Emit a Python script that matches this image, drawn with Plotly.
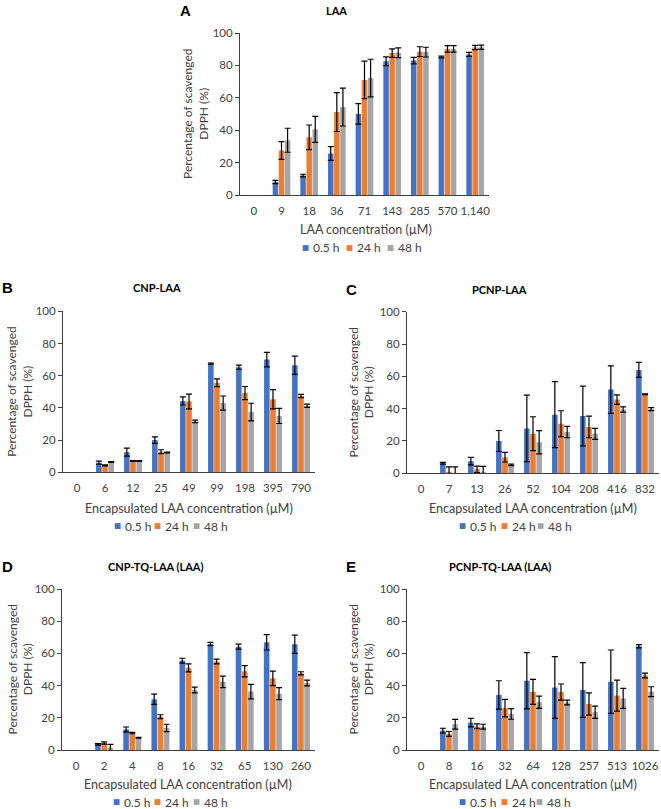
import plotly.graph_objects as go

# ---------------- data ----------------
series_names = ["0.5 h", "24 h", "48 h"]
series_colors = ["#4472C4", "#ED7D31", "#A5A5A5"]

A_cats = ["0", "9", "18", "36", "71", "143", "285", "570", "1,140"]
A_05 = [None, 8, 12, 25.6, 50.1, 82.6, 83, 85.2, 86.8]
A_05_err = [None, 1, 0.8, 4.2, 6.3, 2.7, 2, 0.5, 1.2]
A_24 = [None, 27.5, 35.6, 51.2, 71, 87.6, 88.5, 90.2, 91]
A_24_err = [None, 5.5, 7.6, 12, 11.6, 2.6, 3, 2, 1.3]
A_48 = [None, 33.8, 40.5, 54.3, 72.2, 87.8, 88.2, 90.2, 91.2]
A_48_err = [None, 7.4, 8, 11.7, 11.6, 3, 3, 2, 1.3]

B_cats = ["0", "6", "12", "25", "49", "99", "198", "395", "790"]
B_05 = [None, 6, 12.5, 20, 44.3, 67.5, 65.3, 70, 66.5]
B_05_err = [None, 1, 2.5, 2, 2.5, 0.4, 1.3, 4.5, 5.7]
B_24 = [None, 4.3, 7, 12.8, 44, 55.6, 49.2, 45.4, 47.4]
B_24_err = [None, 0.3, 0.3, 1.2, 4.6, 2.4, 4.1, 6, 1]
B_48 = [None, 6.4, 7, 12.3, 31.6, 43, 37.4, 35, 41.3]
B_48_err = [None, 0.3, 0.3, 0.2, 0.8, 4.4, 5.5, 4.7, 1]

C_cats = ["0", "7", "13", "26", "52", "104", "208", "416", "832"]
C_05 = [None, 6.2, 7.5, 20, 27.8, 36.3, 35.5, 51.8, 64]
C_05_err = [None, 0.5, 2.3, 6.5, 20.6, 20.4, 18.5, 14.7, 4.6]
C_24 = [None, 0.5, 2.5, 10, 24.5, 30.7, 28.7, 45.6, 48.9]
C_24_err = [None, 3.5, 2, 3, 10.5, 8, 6.7, 2.9, 0.3]
C_48 = [None, 0.3, 0.4, 5.2, 19.2, 25.5, 24.4, 39.5, 39.7]
C_48_err = [None, 3.7, 3.9, 0.5, 7.2, 3.5, 3.4, 1.6, 0.9]

D_cats = ["0", "2", "4", "8", "16", "32", "65", "130", "260"]
D_05 = [None, 3.5, 12.8, 31.5, 55.5, 65.8, 64.2, 66.9, 65.7]
D_05_err = [None, 0.5, 1.5, 3.2, 1.5, 1, 1.5, 4.8, 5.7]
D_24 = [None, 4.3, 10.5, 20.7, 51, 55, 48.9, 44.5, 47.6]
D_24_err = [None, 0.7, 0.4, 1.2, 2.5, 1.5, 3.5, 4.5, 1]
D_48 = [None, 1.5, 7.6, 13.7, 37.3, 42.3, 36.3, 35, 41.6]
D_48_err = [None, 2, 0.3, 2.3, 1.8, 3.6, 4.5, 3.7, 1.8]

E_cats = ["0", "8", "16", "32", "64", "128", "257", "513", "1026"]
E_05 = [None, 12, 17, 34.2, 43, 38.8, 37.3, 42.4, 64.4]
E_05_err = [None, 1.5, 2.6, 8.8, 17.5, 19.2, 17, 19.7, 1]
E_24 = [None, 10, 14.7, 26, 36.1, 36, 28.6, 33.8, 46.3]
E_24_err = [None, 1.5, 1.5, 5.4, 7.8, 5, 6.9, 9.6, 1.5]
E_48 = [None, 16, 14.5, 22.4, 29.7, 29.5, 23.5, 32.1, 36.2]
E_48_err = [None, 3, 1.5, 3.3, 3.8, 1.5, 3.8, 6.2, 3.1]

y_ticks = [0, 20, 40, 60, 80, 100]

# ---------------- layout helpers ----------------
W, H = 661, 809
FONT = "Lato, 'Open Sans', sans-serif"
TXT = "#404040"


def px_x(p):
    return p / W


def px_y(p):
    return 1 - p / H


panels = [
    dict(letter="A", title="LAA", cats=A_cats,
         ser=[(A_05, A_05_err), (A_24, A_24_err), (A_48, A_48_err)],
         x=(240, 489), y=(33, 195), xtitle="LAA concentration (µM)",
         lx=185, ly=10, tx=336, yt=195, leg=[303, 347, 388], legy=248, xty=229, xtx=366),
    dict(letter="B", title="CNP-LAA", cats=B_cats,
         ser=[(B_05, B_05_err), (B_24, B_24_err), (B_48, B_48_err)],
         x=(63, 315), y=(311.3, 472.3), xtitle="Encapsulated LAA concentration (µM)",
         lx=7, ly=287, tx=157, yt=20, leg=[115, 155, 194], legy=526, xty=508, xtx=189),
    dict(letter="C", title="PCNP-LAA", cats=C_cats,
         ser=[(C_05, C_05_err), (C_24, C_24_err), (C_48, C_48_err)],
         x=(407, 659), y=(311.7, 473.3), xtitle="Encapsulated LAA concentration (µM)",
         lx=351, ly=289, tx=500, yt=361, leg=[460, 502, 538], legy=526, xty=508, xtx=533),
    dict(letter="D", title="CNP-TQ-LAA (LAA)", cats=D_cats,
         ser=[(D_05, D_05_err), (D_24, D_24_err), (D_48, D_48_err)],
         x=(62, 315), y=(589, 750), xtitle="Encapsulated LAA concentration (µM)",
         lx=7, ly=566, tx=156, yt=20, leg=[114, 155, 194], legy=802, xty=784, xtx=188),
    dict(letter="E", title="PCNP-TQ-LAA (LAA)", cats=E_cats,
         ser=[(E_05, E_05_err), (E_24, E_24_err), (E_48, E_48_err)],
         x=(407, 659), y=(589, 750), xtitle="Encapsulated LAA concentration (µM)",
         lx=351, ly=566, tx=500, yt=361, leg=[460, 502, 537], legy=802, xty=784, xtx=533),
]

fig = go.Figure()
annotations = []
layout_axes = {}

for i, p in enumerate(panels):
    n = "" if i == 0 else str(i + 1)
    xa, ya = "x" + n, "y" + n
    for (vals, errs), name, col in zip(p["ser"], series_names, series_colors):
        fig.add_trace(go.Bar(
            x=p["cats"], y=vals, name=name, marker_color=col, marker_line_width=0,
            xaxis=xa, yaxis=ya, showlegend=False,
            error_y=dict(type="data", array=errs, visible=True, color="#000000",
                         thickness=1.2, width=3),
        ))
    layout_axes["xaxis" + n] = dict(
        domain=[px_x(p["x"][0]), px_x(p["x"][1])], anchor=ya, type="category",
        categoryorder="array", categoryarray=p["cats"], range=[-0.5, len(p["cats"]) - 0.5],
        showline=True, linecolor="#404040", linewidth=1, ticks="",
        showgrid=False, zeroline=False, ticklabelstandoff=5,
        tickfont=dict(family=FONT, size=11.5, color=TXT), fixedrange=True,
    )
    layout_axes["yaxis" + n] = dict(
        domain=[px_y(p["y"][1]), px_y(p["y"][0])], anchor=xa, range=[0, 100],
        tickvals=y_ticks, showline=True, linecolor="#404040", linewidth=1,
        ticks="outside", ticklen=4, tickcolor="#404040", showgrid=False, zeroline=False,
        tickfont=dict(family=FONT, size=11.5, color=TXT), fixedrange=True,
    )
    ymid = (p["y"][0] + p["y"][1]) / 2
    annotations.append(dict(text="<b>%s</b>" % p["letter"], x=px_x(p["lx"]), y=px_y(p["ly"]),
                            xref="paper", yref="paper", showarrow=False, xanchor="center", yanchor="middle",
                            font=dict(family="Liberation Sans, Arial, sans-serif", size=15, color="#000000")))
    annotations.append(dict(text="<b>%s</b>" % p["title"], x=px_x(p["tx"]), y=px_y(p["ly"]),
                            xref="paper", yref="paper", showarrow=False, xanchor="center", yanchor="middle",
                            font=dict(family=FONT, size=11, color="#000000")))
    annotations.append(dict(text="Percentage of scavenged<br>DPPH (%)", x=px_x(p["yt"]), y=px_y(ymid),
                            xref="paper", yref="paper", showarrow=False, xanchor="center", yanchor="middle",
                            textangle=-90, font=dict(family=FONT, size=12, color=TXT)))
    annotations.append(dict(text=p["xtitle"], x=px_x(p["xtx"]), y=px_y(p["xty"]),
                            xref="paper", yref="paper", showarrow=False, xanchor="center", yanchor="middle",
                            font=dict(family=FONT, size=12.5, color=TXT)))
    for lx, name, col in zip(p["leg"], series_names, series_colors):
        # legend swatch
        annotations.append(dict(text="■", x=px_x(lx + 2.5), y=px_y(p["legy"] - 0.5),
                                xref="paper", yref="paper", showarrow=False,
                                xanchor="center", yanchor="middle",
                                font=dict(family="DejaVu Sans", size=7.5, color=col)))
        # legend label
        annotations.append(dict(text=name, x=px_x(lx + 7.5), y=px_y(p["legy"]),
                                xref="paper", yref="paper", showarrow=False,
                                xanchor="left", yanchor="middle",
                                font=dict(family=FONT, size=12, color=TXT)))

fig.update_layout(
    width=W, height=H, margin=dict(l=0, r=0, t=0, b=0, autoexpand=False),
    paper_bgcolor="white", plot_bgcolor="white",
    barmode="group", bargap=0.34, bargroupgap=0.1,
    annotations=annotations, showlegend=False,
    **layout_axes,
)

fig.write_html(
    "out.html",
    config={"displayModeBar": False},
    post_script="document.body.style.margin='0';document.body.style.padding='0';"
                "document.body.style.overflow='hidden';",
)
